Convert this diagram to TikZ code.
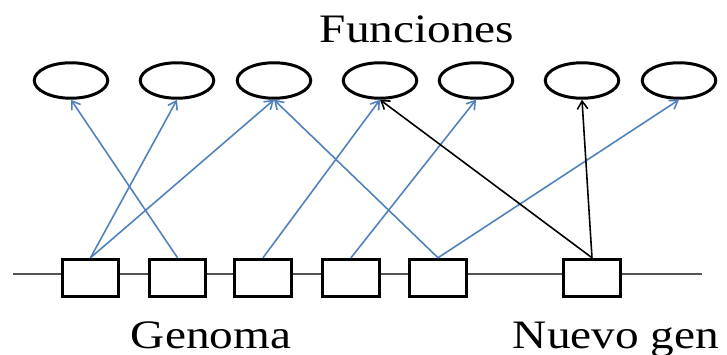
\documentclass[tikz,border=0pt]{standalone}
\usepackage{fontspec}
\setmainfont{Liberation Serif}
\newfontfamily\labelfont[FakeStretch=1.17]{Liberation Serif}
\usepackage{tikz}
\usetikzlibrary{shapes.geometric}
\usetikzlibrary{arrows.meta}
\definecolor{gblue}{HTML}{4F81BD}
\definecolor{lgray}{HTML}{555555}

\begin{document}
\begin{tikzpicture}[x=0.02cm, y=-0.02cm,
    func/.style={draw, ellipse, line width=1.7pt, minimum width=1.47cm, minimum height=0.71cm, inner sep=0},
    gen/.style={draw, rectangle, line width=1.7pt, minimum width=1.13cm, minimum height=0.75cm, inner sep=0, fill=white},
    lbl/.style={anchor=base, inner sep=0, font=\labelfont\fontsize{23}{28}\selectfont},
    link/.style={gblue, line width=0.9pt, -{Straight Barb[length=4.5pt,width=6pt]}},
    newlink/.style={link, black}]
    \useasboundingbox (0,0) rectangle (727,355);

    \node[lbl] (funciones) at (417,42) {Funciones};
    \node[func] (f1) at (71,80.5) {};
    \node[func] (f2) at (177,80.5) {};
    \node[func] (f3) at (274,80.5) {};
    \node[func] (f4) at (380,80.5) {};
    \node[func] (f5) at (476,80.5) {};
    \node[func] (f6) at (582,80.5) {};
    \node[func] (f7) at (679,80.5) {};

    \coordinate (left) at (13,274);
    \coordinate (right) at (702,274);
    \draw[lgray, line width=0.6pt] (left) -- (right);
    \node[gen] (g1) at (90.5,278) {};
    \node[gen] (g2) at (177.5,278) {};
    \node[gen] (g3) at (263,278) {};
    \node[gen] (g4) at (351,278) {};
    \node[gen] (g5) at (438,278) {};
    \node[gen] (g6) at (592,278) {};

    \node[lbl] (genoma) at (211,348) {Genoma};
    \node[lbl] (nuevo) at (616,348) {Nuevo gen};

    \foreach \a/\b in {1/2, 1/3, 2/1, 3/4, 4/5, 5/3, 5/7}
        \draw[link] (g\a.north) -- (f\b.south);
    \draw[newlink] (g6.north) -- (f4.south);
    \draw[newlink] (g6.north) -- (f6.south);
\end{tikzpicture}
\end{document}
